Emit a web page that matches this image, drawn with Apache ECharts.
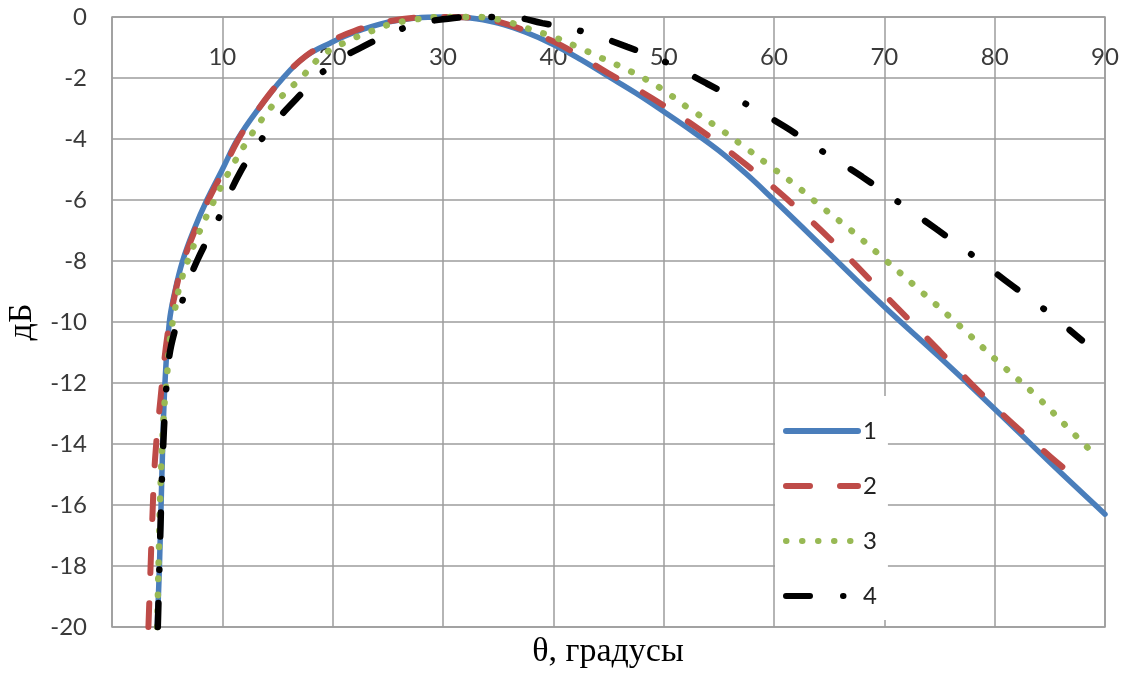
<!DOCTYPE html>
<html>
<head>
<meta charset="utf-8">
<script src="https://cdn.jsdelivr.net/npm/echarts@6/dist/echarts.min.js"></script>
<style>
html,body{margin:0;padding:0;background:#fff;}
#chart{width:1128px;height:682px;}
</style>
</head>
<body>
<div id="chart"></div>
<script>
// ---- data ----
const seriesNames = ['1', '2', '3', '4'];
const xTicks = [10, 20, 30, 40, 50, 60, 70, 80, 90];
const yTicks = [0, -2, -4, -6, -8, -10, -12, -14, -16, -18, -20];

const theta1 = [4.1, 4.3, 4.45, 4.6, 4.8, 5.2, 5.7, 6.4, 7.4, 8.6, 10, 11.4, 13.3, 15.5, 17.5, 19.8, 22, 25, 27.5, 30, 32.5, 35, 37.5, 40, 42.5, 45, 47.5, 50, 52.5, 55, 57.5, 60, 62.5, 65, 70, 75, 80, 85, 90];
const db1    = [-20, -18, -16, -14, -12, -10, -9.0, -8.0, -7.0, -6.0, -5.0, -4.0, -3.0, -2.0, -1.3, -0.85, -0.5, -0.17, -0.03, 0, -0.03, -0.2, -0.5, -0.9, -1.4, -1.95, -2.5, -3.1, -3.72, -4.38, -5.15, -6.0, -6.87, -7.75, -9.5, -11.15, -12.85, -14.6, -16.3];

const theta2 = [3.3, 3.45, 3.65, 3.9, 4.4, 5.0, 5.7, 6.4, 7.4, 8.6, 10, 11.4, 13.3, 15.5, 17.5, 19.8, 22, 25, 27.5, 30, 32.5, 35, 37.5, 40, 42.5, 45, 47.5, 50, 52.5, 55, 57.5, 60, 62.5, 65, 70, 75, 80, 85, 88];
const db2    = [-20, -18.5, -16.5, -14.5, -12.5, -10.5, -9.1, -8.1, -7.1, -6.1, -5.1, -4.05, -3.0, -2.0, -1.3, -0.8, -0.45, -0.15, -0.02, 0, -0.02, -0.15, -0.45, -0.8, -1.3, -1.85, -2.35, -2.9, -3.5, -4.15, -4.85, -5.6, -6.4, -7.25, -9.1, -10.95, -12.78, -14.4, -15.3];

const theta3 = [4.1, 4.25, 4.4, 4.7, 5.0, 5.25, 5.7, 6.3, 7.8, 9.15, 10.6, 12.2, 14, 15.05, 17.2, 19.1, 21.6, 23.4, 25, 27.5, 30, 33, 35.5, 37.6, 40, 42, 44.4, 47.1, 49.7, 52.1, 54.7, 57.1, 59.5, 61.9, 64.3, 67, 70.1, 73.5, 76.9, 80.3, 83.7, 87, 89.1];
const db3    = [-20, -17.5, -15.4, -13, -11.7, -10.6, -9.6, -8.6, -7.15, -6.1, -5.08, -4.1, -3.15, -2.72, -1.97, -1.25, -0.75, -0.48, -0.26, -0.08, 0, 0, -0.12, -0.37, -0.65, -0.95, -1.35, -1.8, -2.33, -2.95, -3.57, -4.2, -4.85, -5.5, -6.22, -7.0, -7.97, -9.05, -10.15, -11.3, -12.4, -13.6, -14.36];

const theta4 = [4.15, 4.3, 4.45, 4.6, 4.85, 5.2, 5.9, 6.6, 7.7, 9.8, 11.6, 14, 16.8, 19.9, 23.4, 25.8, 28, 31, 33, 36, 39, 42.9, 46.7, 50.3, 53.9, 57.5, 61, 64.5, 68, 71.4, 74.7, 78.1, 81.3, 84.7, 87.9];
const db4    = [-20, -18, -16, -14.4, -12.6, -11.1, -10.0, -9.05, -8.0, -6.5, -5.1, -3.8, -2.65, -1.57, -0.85, -0.45, -0.2, -0.03, 0, 0, -0.2, -0.5, -0.98, -1.5, -2.18, -2.86, -3.6, -4.43, -5.24, -6.1, -6.95, -7.84, -8.73, -9.64, -10.6];

function pairs(xs, ys) { return xs.map((x, i) => [x, ys[i]]); }

const chart = echarts.init(document.getElementById('chart'), null, {renderer: 'canvas'});
const gridColor = '#9d9d9d';
const labelFont = 'Lato';

const lineCommon = {type: 'line', showSymbol: false, symbol: 'none', smooth: 0.4, clip: false};

chart.setOption({
  backgroundColor: '#ffffff',
  animation: false,
  grid: {left: 112, right: 23, top: 17, bottom: 55, outerBoundsMode: 'none', containLabel: false,
         show: true, borderColor: gridColor, borderWidth: 1.5, backgroundColor: 'transparent'},
  xAxis: {
    type: 'value', position: 'top', min: 0, max: 90, interval: 10,
    axisLine: {show: false}, axisTick: {show: false},
    axisLabel: {inside: true, margin: 28, showMinLabel: false, color: '#3a3a3a', fontSize: 24, fontFamily: labelFont,
      formatter: v => xTicks.indexOf(v) >= 0 ? String(v) : ''},
    splitLine: {show: true, lineStyle: {color: gridColor, width: 1.5}}
  },
  yAxis: {
    type: 'value', min: -20, max: 0, interval: 2,
    axisLine: {show: false}, axisTick: {show: false},
    axisLabel: {margin: 25, color: '#3a3a3a', fontSize: 24, fontFamily: labelFont,
      formatter: v => yTicks.indexOf(v) >= 0 ? String(v) : ''},
    splitLine: {show: true, lineStyle: {color: gridColor, width: 1.5}},
    name: 'дБ', nameLocation: 'middle', nameGap: 70, nameRotate: 90,
    nameTextStyle: {fontFamily: 'Liberation Serif', fontSize: 34, color: '#000'}
  },
  legend: {
    orient: 'vertical', left: 775, top: 396,
    backgroundColor: '#ffffff',
    padding: [23, 11, 12, 8],
    itemWidth: 72, itemHeight: 14, itemGap: 31,
    itemStyle: {color: 'rgba(0,0,0,0)', borderColor: 'rgba(0,0,0,0)', borderWidth: 0, opacity: 0},
    lineStyle: {width: 6, cap: 'round'},
    textStyle: {fontSize: 24, fontFamily: labelFont, color: '#222'},
    data: seriesNames
  },
  graphic: [{
    type: 'text', x: 608, y: 652,
    style: {text: 'θ, градусы', font: '34px "Liberation Serif"', fill: '#000', align: 'center', verticalAlign: 'middle'}
  }],
  series: [
    Object.assign({name: seriesNames[0], data: pairs(theta1, db1), z: 2,
     lineStyle: {color: '#4A7EBB', width: 5.5, cap: 'round'}, itemStyle: {color: '#4A7EBB'}}, lineCommon),
    Object.assign({name: seriesNames[1], data: pairs(theta2, db2), z: 3,
     lineStyle: {color: '#BE4B48', width: 6, type: [24, 30], cap: 'round'}, itemStyle: {color: '#BE4B48'}}, lineCommon),
    Object.assign({name: seriesNames[2], data: pairs(theta3, db3), z: 4,
     lineStyle: {color: '#98B954', width: 6.5, type: [0.5, 15.5], cap: 'round'}, itemStyle: {color: '#98B954'}}, lineCommon),
    Object.assign({name: seriesNames[3], data: pairs(theta4, db4), z: 5,
     lineStyle: {color: '#000000', width: 6.5, type: [24, 33, 0.5, 33], cap: 'round'}, itemStyle: {color: '#000000'}}, lineCommon)
  ]
});
</script>
</body>
</html>
